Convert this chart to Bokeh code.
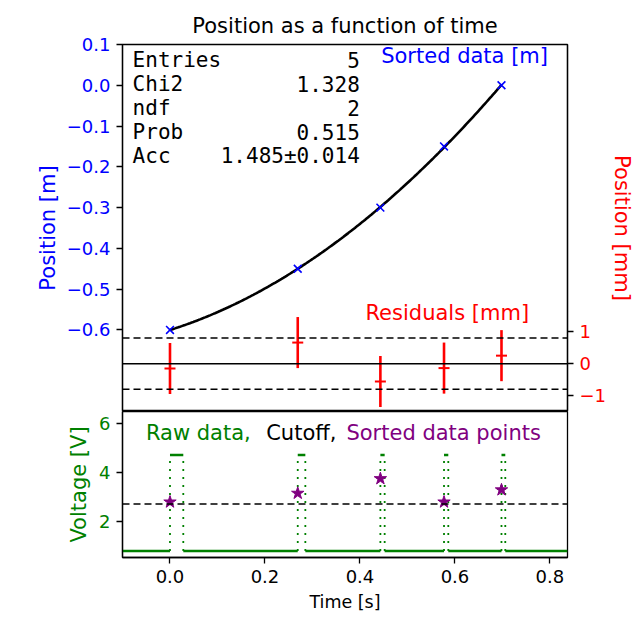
import numpy as np
from bokeh.plotting import figure
from bokeh.models import Range1d, LinearAxis, FixedTicker, Span, Label
from bokeh.layouts import column
from bokeh.embed import file_html
from bokeh.resources import INLINE

# ---------------- data ----------------
sorted_t = [0.0, 0.269, 0.443, 0.577, 0.698]          # s
sorted_pos_m = [-0.60, -0.45, -0.30, -0.15, 0.0]      # m
sorted_v = [2.78, 3.14, 3.74, 2.78, 3.28]             # V
residual_mm = [-0.15, 0.66, -0.56, -0.14, 0.25]
residual_err_mm = [0.8, 0.8, 0.8, 0.8, 0.8]
band_mm = 0.8
cutoff_v = 2.7

raw_t_start, raw_t_end = -0.1, 0.837
pulse_rise_t = [0.0, 0.269, 0.443, 0.577, 0.698]
pulse_fall_t = [0.028, 0.285, 0.452, 0.586, 0.706]
raw_low_v = 0.77
raw_high_v = 4.71

stat_names = ["Entries", "Chi2", "ndf", "Prob", "Acc"]
stat_values = ["5", "1.328", "2", "0.515", "1.485\u00b10.014"]
stat_y = [0.0614, 0.0027, -0.0560, -0.1148, -0.1735]

x_ticks = [0.0, 0.2, 0.4, 0.6, 0.8]
x_tick_labels = ["0.0", "0.2", "0.4", "0.6", "0.8"]
pos_ticks = [0.1, 0.0, -0.1, -0.2, -0.3, -0.4, -0.5, -0.6]
pos_tick_labels = ["0.1", "0.0", "\u22120.1", "\u22120.2", "\u22120.3", "\u22120.4", "\u22120.5", "\u22120.6"]
mm_ticks = [1, 0, -1]
mm_tick_labels = ["1", "0", "\u22121"]
v_ticks = [2, 4, 6]
v_tick_labels = ["2", "4", "6"]

# ---------------- styling helpers ----------------
FONT = "DejaVu Sans"
MONO = "DejaVu Sans Mono"
BLUE, RED, GREEN, PURPLE = "#0000ff", "#ff0000", "#008000", "#800080"
TICK_FS, TEXT_FS = "18px", "21px"


def style_axis(ax, ticks, labels, color, label_fs):
    ax.ticker = FixedTicker(ticks=ticks)
    ax.major_label_overrides = {t: l for t, l in zip(ticks, labels)}
    ax.major_label_text_color = color
    ax.major_label_text_font = FONT
    ax.major_label_text_font_size = TICK_FS
    ax.axis_label_text_color = color
    ax.axis_label_text_font = FONT
    ax.axis_label_text_font_size = label_fs
    ax.axis_label_text_font_style = "normal"
    ax.major_tick_line_color = "black"
    ax.major_tick_line_width = 1.3
    ax.major_tick_out = 6
    ax.major_tick_in = 0
    ax.minor_tick_line_color = None
    ax.axis_line_color = "black"
    ax.axis_line_width = 1.3
    ax.major_label_standoff = 6


x_range = Range1d(raw_t_start, raw_t_end)

# ---------------- top panel ----------------
p1 = figure(frame_width=445, frame_height=367, x_range=x_range,
            y_range=Range1d(-0.8, 0.1), output_backend="svg",
            toolbar_location=None, x_axis_location=None,
            min_border_left=122, min_border_right=60,
            min_border_top=44, min_border_bottom=0)
p1.title.text = "Position as a function of time"
p1.title.text_font = FONT
p1.title.text_font_size = TEXT_FS
p1.title.text_font_style = "normal"
p1.title.text_color = "black"
p1.title.align = "center"
p1.title.standoff = 13
p1.grid.visible = False
p1.outline_line_color = "black"
p1.outline_line_width = 1.3

p1.yaxis.axis_label = "Position [m]"
style_axis(p1.yaxis[0], pos_ticks, pos_tick_labels, BLUE, TEXT_FS)
p1.yaxis[0].axis_label_standoff = 4

p1.extra_y_ranges = {"mm": Range1d(-1.5, 10)}
rax = LinearAxis(y_range_name="mm", axis_label="Position [mm]")
style_axis(rax, mm_ticks, mm_tick_labels, RED, TEXT_FS)
rax.axis_label_standoff = 1
p1.add_layout(rax, "right")

# fitted curve (quadratic fit of the sorted data)
coef = np.polyfit(sorted_t, sorted_pos_m, 2)
t_fit = np.linspace(sorted_t[0], sorted_t[-1], 200)
p1.line(t_fit, np.polyval(coef, t_fit), line_color="black", line_width=2.6)

p1.scatter(sorted_t, sorted_pos_m, marker="x", size=11, line_color=BLUE, line_width=1.6)

# residual band
for yv, dash in [(band_mm, "7 4"), (-band_mm, "7 4"), (0.0, "solid")]:
    p1.add_layout(Span(location=yv, dimension="width", y_range_name="mm",
                       line_color="black", line_width=1.5, line_dash=dash))

res_lo = [r - e for r, e in zip(residual_mm, residual_err_mm)]
res_hi = [r + e for r, e in zip(residual_mm, residual_err_mm)]
p1.segment(x0=sorted_t, y0=res_lo, x1=sorted_t, y1=res_hi, y_range_name="mm",
           line_color=RED, line_width=2.6)
p1.scatter(sorted_t, residual_mm, marker="dash", size=11, y_range_name="mm",
           line_color=RED, line_width=2)

p1.add_layout(Label(x=0.4447, y=0.0722, text="Sorted data [m]", text_color=BLUE,
                    text_font=FONT, text_font_size=TEXT_FS, text_baseline="alphabetic"))
p1.add_layout(Label(x=0.4116, y=-0.5585, text="Residuals [mm]", text_color=RED,
                    text_font=FONT, text_font_size=TEXT_FS, text_baseline="alphabetic"))
for name, val, yv in zip(stat_names, stat_values, stat_y):
    p1.add_layout(Label(x=-0.0787, y=yv, text=name, text_font=MONO, text_font_size=TEXT_FS,
                        text_baseline="alphabetic", text_color="black"))
    p1.add_layout(Label(x=0.3996, y=yv, text=val, text_font=MONO, text_font_size=TEXT_FS,
                        text_baseline="alphabetic", text_align="right", text_color="black"))

# ---------------- bottom panel ----------------
p2 = figure(frame_width=445, frame_height=146, x_range=x_range,
            y_range=Range1d(0.5, 6.5), output_backend="svg",
            toolbar_location=None,
            min_border_left=122, min_border_right=60,
            min_border_top=0, min_border_bottom=56)
p2.grid.visible = False
p2.outline_line_color = "black"
p2.outline_line_width = 1.3
p2.yaxis.axis_label = "Voltage [V]"
style_axis(p2.yaxis[0], v_ticks, v_tick_labels, GREEN, TEXT_FS)
p2.yaxis[0].axis_label_standoff = 5
p2.xaxis.axis_label = "Time [s]"
style_axis(p2.xaxis[0], x_ticks, x_tick_labels, "black", "17.5px")
p2.xaxis[0].axis_label_standoff = 6

# raw trace: flat parts solid, transitions dotted
low_x = [[raw_t_start, pulse_rise_t[0]]] + \
        [[pulse_fall_t[i], pulse_rise_t[i + 1]] for i in range(len(pulse_rise_t) - 1)] + \
        [[pulse_fall_t[-1], raw_t_end]]
low_y = [[raw_low_v, raw_low_v] for _ in low_x]
high_x = [[r, f] for r, f in zip(pulse_rise_t, pulse_fall_t)]
high_y = [[raw_high_v, raw_high_v] for _ in high_x]
p2.multi_line(low_x + high_x, low_y + high_y, line_color=GREEN, line_width=2.4)
edge_t = pulse_rise_t + pulse_fall_t
p2.segment(x0=edge_t, y0=[raw_low_v] * len(edge_t), x1=edge_t, y1=[raw_high_v] * len(edge_t),
           line_color=GREEN, line_width=1.8, line_dash="2 6")

p2.add_layout(Span(location=cutoff_v, dimension="width", line_color="black",
                   line_width=1.5, line_dash="7 4"))
p2.scatter(sorted_t, sorted_v, marker="star", size=13, fill_color=PURPLE, line_color=PURPLE)

for txt, xv, col in [("Raw data,", -0.0507, GREEN), ("Cutoff,", 0.2026, "black"),
                     ("Sorted data points", 0.3715, PURPLE)]:
    p2.add_layout(Label(x=xv, y=5.623, text=txt, text_color=col, text_font=FONT,
                        text_font_size=TEXT_FS, text_baseline="alphabetic"))

layout = column(p1, p2, spacing=0)
open("out.html", "w").write(file_html(layout, INLINE))
